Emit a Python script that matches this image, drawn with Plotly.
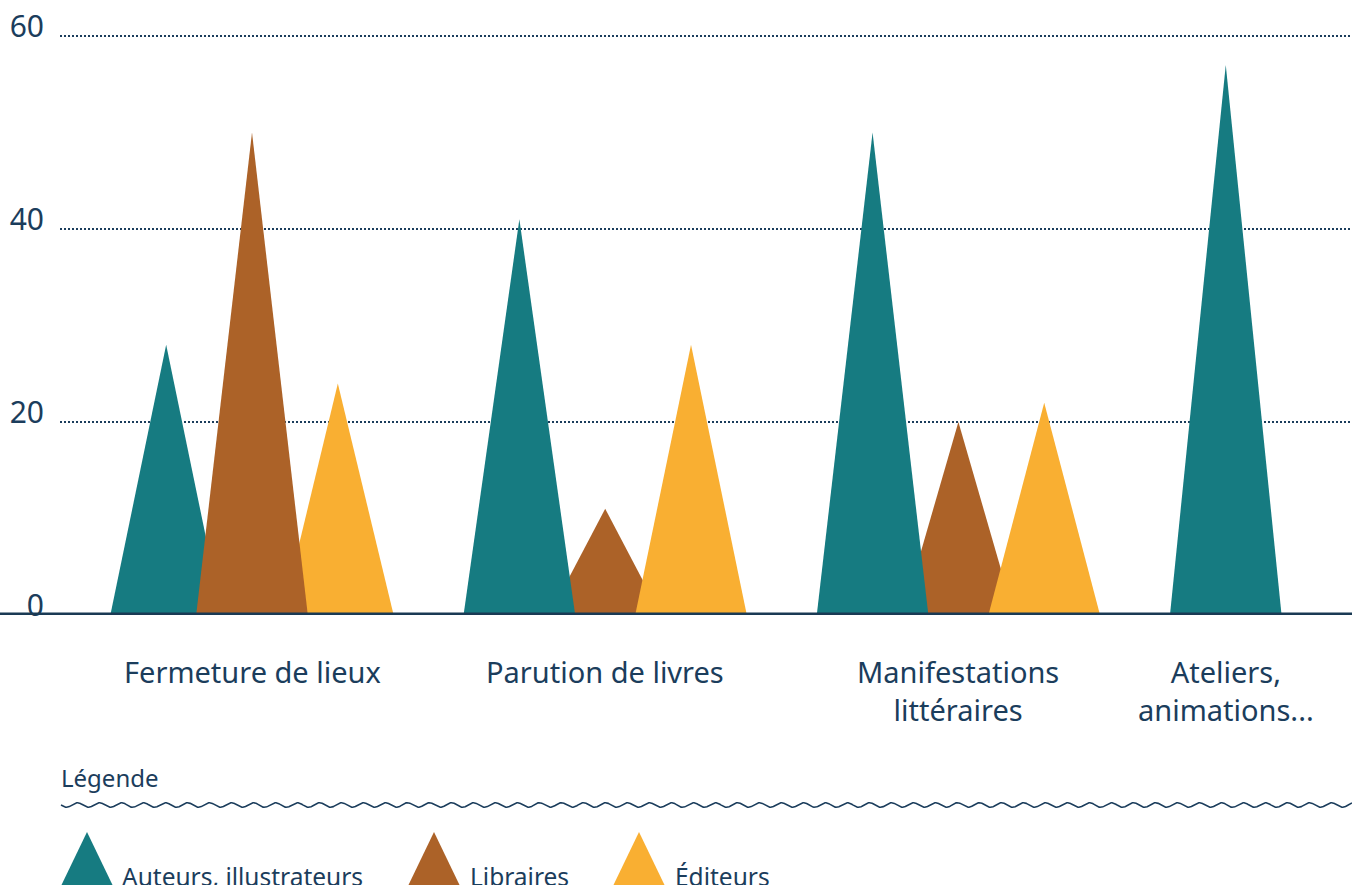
import numpy as np
import plotly.graph_objects as go

# ---------------- data ----------------
categories = ["Fermeture de lieux", "Parution de livres", "Manifestations<br>littéraires", "Ateliers,<br>animations..."]
series_names = ["Auteurs, illustrateurs", "Libraires", "Éditeurs"]
auteurs = [28, 41, 50, 57]
libraires = [50, 11, 20, 0]
editeurs = [24, 28, 22, 0]
y_ticks = [0, 20, 40, 60]
legend_title = "Légende"

# ---------------- styles ----------------
colors = ["#167B81", "#AC6228", "#F9AF32"]
navy = "#1B3D5C"
base_navy = "#1A3A54"
font_family = "Noto Sans, Open Sans, sans-serif"
W, H = 1352, 885
series_values = [auteurs, libraires, editeurs]
offsets = [-0.243, 0.0, 0.243]   # position of each series inside a category
half_width = 0.158               # half base width of each triangle
px_per_unit = 9.65
y_zero_px = 615
y_top = 61                       # small headroom so the 60 gridline is drawn

fig = go.Figure()

# triangles (shorter drawn first so taller ones sit on top)
for i, cat in enumerate(categories):
    items = [(series_values[j][i], j) for j in range(len(series_names))]
    for v, j in sorted(items):
        if v <= 0:
            continue
        xc = i + offsets[j]
        fig.add_trace(go.Scatter(
            x=[xc - half_width, xc, xc + half_width, xc - half_width],
            y=[0, v, 0, 0],
            mode="lines", fill="toself", fillcolor=colors[j],
            line=dict(width=0, color=colors[j]),
            name=series_names[j], showlegend=False,
            hoverinfo="text", text=f"{series_names[j]}: {v}",
            xaxis="x", yaxis="y",
        ))

# wavy separator line in legend area (pixel overlay axes)
wx = np.linspace(61, W, 1400)
wy = 805 + 2.3 * np.sin(2 * np.pi * (wx - 61) / 22.0)
fig.add_trace(go.Scatter(x=wx, y=wy, mode="lines", line=dict(color=navy, width=1.6),
                         showlegend=False, hoverinfo="skip", xaxis="x2", yaxis="y2"))

shapes = []
annotations = []

# baseline at 0
shapes.append(dict(type="line", xref="paper", yref="y", x0=0, x1=1, y0=0, y1=0,
                   line=dict(color=base_navy, width=5), layer="above"))

# category labels centered under the drawn triangles
for i, cat in enumerate(categories):
    present = [offsets[j] for j in range(len(series_names)) if series_values[j][i] > 0]
    xc = i + (sum(present) / len(present) if present else 0)
    annotations.append(dict(x=xc, y=650, xref="x", yref="y2", text=cat, showarrow=False,
                            xanchor="center", yanchor="top", align="center",
                            font=dict(family=font_family, size=29, color=navy)))

# legend
annotations.append(dict(x=59, y=777, xref="x2", yref="y2", text=legend_title, showarrow=False,
                        xanchor="left", yanchor="middle",
                        font=dict(family=font_family, size=24, color=navy)))
legend_tri_left = [61, 408, 613]
legend_text_left = [120, 468, 673]
for j, name in enumerate(series_names):
    x0 = legend_tri_left[j]
    shapes.append(dict(type="path", xref="x2", yref="y2",
                       path=f"M {x0},{886} L {x0+26},{832} L {x0+52},{886} Z",
                       fillcolor=colors[j], line=dict(width=0)))
    annotations.append(dict(x=legend_text_left[j], y=876, xref="x2", yref="y2", text=name,
                            showarrow=False, xanchor="left", yanchor="middle",
                            font=dict(family=font_family, size=24.5, color=navy)))

y_top_px = y_zero_px - y_top * px_per_unit
fig.update_layout(
    width=W, height=H, autosize=False,
    margin=dict(l=0, r=0, t=0, b=0, pad=0, autoexpand=False),
    paper_bgcolor="white", plot_bgcolor="rgba(0,0,0,0)",
    showlegend=False,
    xaxis=dict(domain=[60 / W, 1], range=[-0.5436, 3.1144], showgrid=False, zeroline=False,
               showticklabels=False, showline=False, anchor="y", fixedrange=True,
               automargin=False),
    yaxis=dict(domain=[(H - y_zero_px) / H, (H - y_top_px) / H], range=[0, y_top], tickvals=y_ticks,
               showgrid=True, gridcolor=navy, gridwidth=1.5, griddash="1.5px,2.5px",
               zeroline=False, showline=False, ticks="", anchor="x",
               tickfont=dict(family=font_family, size=30, color=navy),
               ticklabelshift=-10, ticklabelstandoff=15, fixedrange=True,
               automargin=False),
    xaxis2=dict(domain=[0, 1], range=[0, W], visible=False, anchor="y2", fixedrange=True,
                automargin=False),
    yaxis2=dict(domain=[0, 1], range=[H, 0], visible=False, anchor="x2", fixedrange=True,
                automargin=False),
    shapes=shapes,
    annotations=annotations,
)

fig.write_html("out.html", config={"displayModeBar": False, "responsive": False},
               post_script="document.body.style.margin='0';")
